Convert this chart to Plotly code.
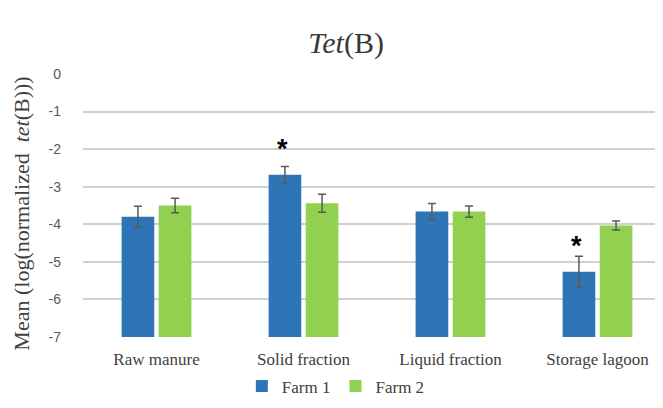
import plotly.graph_objects as go

categories = ["Raw manure", "Solid fraction", "Liquid fraction", "Storage lagoon"]
farm1 = [-3.80, -2.68, -3.66, -5.26]
farm1_err = [0.28, 0.22, 0.21, 0.41]
farm2 = [-3.50, -3.44, -3.66, -4.03]
farm2_err = [0.19, 0.24, 0.15, 0.12]
significant = [False, True, False, True]
y_ticks = [0, -1, -2, -3, -4, -5, -6, -7]

axis_min = min(y_ticks)
serif = "Liberation Serif"
sans = "Liberation Sans"

fig = go.Figure()
# Bars rise from the axis minimum (as in the original Excel chart)
fig.add_trace(go.Bar(
    x=categories, y=[v - axis_min for v in farm1], base=axis_min, name="Farm 1",
    marker=dict(color="#2E75B6", line=dict(width=0)),
    error_y=dict(type="data", array=farm1_err, color="#595959", thickness=1.5, width=4),
))
fig.add_trace(go.Bar(
    x=categories, y=[v - axis_min for v in farm2], base=axis_min, name="Farm 2",
    marker=dict(color="#92D050", line=dict(width=0)),
    error_y=dict(type="data", array=farm2_err, color="#595959", thickness=1.5, width=4),
))

star_yshift = {1: 0, 3: -7}
annotations = []
for i, (cat, sig) in enumerate(zip(categories, significant)):
    if sig:
        annotations.append(dict(
            x=i, y=farm1[i] + farm1_err[i], xref="x", yref="y",
            text="<b>*</b>", showarrow=False, xshift=-21, yshift=star_yshift.get(i, 0),
            yanchor="bottom", font=dict(family=sans, size=27, color="#000000"),
        ))

# y-axis title as a rotated annotation for exact placement
annotations.append(dict(
    x=-0.105, y=0.47, xref="paper", yref="paper", textangle=-90,
    text="Mean (log(normalized  <i>tet</i>(B)))", showarrow=False,
    xanchor="center", yanchor="middle",
    font=dict(family=serif, size=22, color="#404040"),
))

fig.update_layout(
    width=663, height=408,
    margin=dict(l=75, r=0, t=66, b=79),
    paper_bgcolor="white", plot_bgcolor="white",
    title=dict(text="<i>Tet</i>(B)", x=0.51, xanchor="center", y=0.915, yanchor="middle",
               font=dict(family=serif, size=30, color="#3a3a3a")),
    barmode="group", bargap=0.495, bargroupgap=0.12,
    showlegend=True,
    legend=dict(orientation="h", x=0.43, xanchor="center", y=-0.12, yanchor="top",
                font=dict(family=serif, size=17, color="#404040"),
                itemwidth=30, traceorder="normal"),
    annotations=annotations,
)
fig.update_yaxes(
    range=[-7, 0], tickvals=y_ticks, ticktext=[str(v) for v in y_ticks],
    showgrid=True, gridcolor="#D0D0D0", gridwidth=1.5, zeroline=False,
    showline=False, ticks="", ticklabelstandoff=21,
    tickfont=dict(family=sans, size=14, color="#595959"),
)
fig.update_xaxes(
    showgrid=False, showline=False, ticks="", zeroline=False,
    ticklabelstandoff=10,
    tickfont=dict(family=serif, size=17, color="#404040"),
    range=[-0.5, 3.5],
)

fig.write_html("out.html")
